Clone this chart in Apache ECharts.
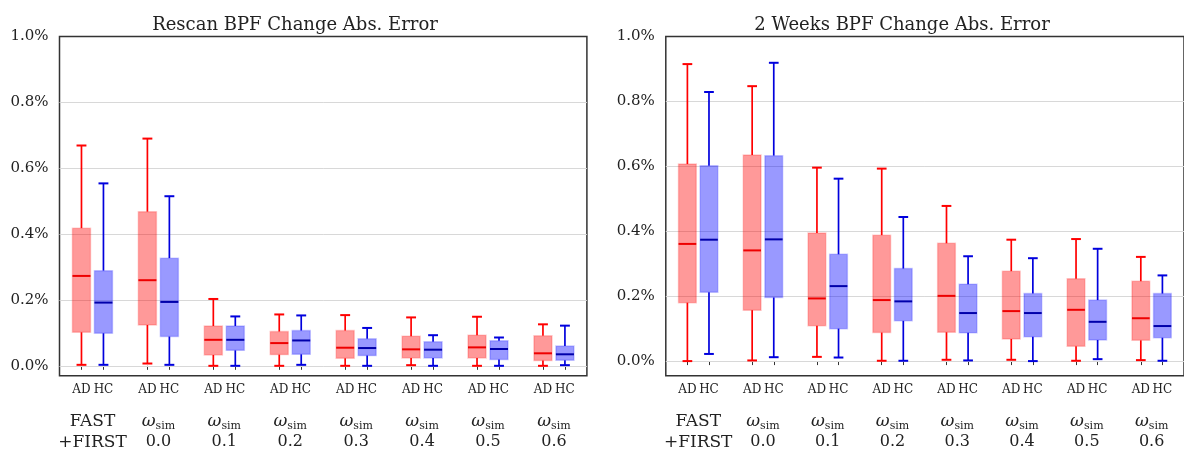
<!DOCTYPE html>
<html>
<head>
<meta charset="utf-8">
<script src="https://cdn.jsdelivr.net/npm/echarts@6.0.0/dist/echarts.min.js"></script>
<style>
html, body { margin: 0; padding: 0; background: #fff; }
#chart { width: 1184px; height: 451px; }
</style>
</head>
<body>
<div id="chart"></div>
<script>
'use strict';

// group labels under each AD/HC pair
var groupLabels = ['FAST+FIRST', '0.0', '0.1', '0.2', '0.3', '0.4', '0.5', '0.6'];
var boxLabels = ['AD', 'HC'];
var yTicks = [0, 0.2, 0.4, 0.6, 0.8, 1.0];
var titles = ['Rescan BPF Change Abs. Error', '2 Weeks BPF Change Abs. Error'];

// [lower whisker, Q1, median, Q3, upper whisker] in %
var rescanAD = [
	[0.003, 0.102, 0.273, 0.418, 0.669],
	[0.007, 0.124, 0.260, 0.468, 0.690],
	[0.000, 0.033, 0.079, 0.121, 0.203],
	[0.000, 0.034, 0.069, 0.104, 0.156],
	[0.000, 0.023, 0.055, 0.107, 0.154],
	[0.002, 0.024, 0.050, 0.090, 0.147],
	[0.000, 0.024, 0.056, 0.093, 0.149],
	[0.000, 0.016, 0.038, 0.091, 0.126]
];
var rescanHC = [
	[0.003, 0.099, 0.192, 0.289, 0.554],
	[0.003, 0.089, 0.194, 0.327, 0.515],
	[0.000, 0.047, 0.079, 0.121, 0.150],
	[0.003, 0.035, 0.077, 0.107, 0.153],
	[0.000, 0.031, 0.054, 0.082, 0.115],
	[0.000, 0.024, 0.049, 0.073, 0.093],
	[0.000, 0.019, 0.051, 0.076, 0.086],
	[0.002, 0.017, 0.035, 0.060, 0.122]
];
var weeksAD = [
	[0.000, 0.180, 0.361, 0.607, 0.915],
	[0.002, 0.157, 0.341, 0.635, 0.847],
	[0.013, 0.109, 0.193, 0.395, 0.596],
	[0.001, 0.088, 0.188, 0.388, 0.593],
	[0.004, 0.089, 0.201, 0.363, 0.478],
	[0.004, 0.068, 0.154, 0.277, 0.374],
	[0.001, 0.046, 0.158, 0.254, 0.376],
	[0.003, 0.064, 0.132, 0.246, 0.321]
];
var weeksHC = [
	[0.022, 0.212, 0.374, 0.602, 0.829],
	[0.012, 0.196, 0.375, 0.633, 0.919],
	[0.011, 0.100, 0.231, 0.329, 0.562],
	[0.001, 0.124, 0.184, 0.285, 0.444],
	[0.002, 0.087, 0.148, 0.237, 0.323],
	[0.000, 0.075, 0.148, 0.208, 0.317],
	[0.006, 0.065, 0.121, 0.188, 0.346],
	[0.001, 0.072, 0.108, 0.208, 0.264]
];

var SERIF = 'DejaVu Serif';
var BOX_W = 0.82, CAP_W = 0.45;

var styles = {
	AD: { line: '#ff0000', median: '#ee0000', fill: 'rgba(255,0,0,0.4)', edge: 'rgba(255,0,0,0.2)' },
	HC: { line: '#0000dd', median: '#0000aa', fill: 'rgba(0,0,255,0.4)', edge: 'rgba(0,0,255,0.2)' }
};

// AD at 3g, HC at 3g+1
var tickPos = [];
groupLabels.forEach(function (l, g) { tickPos.push(3 * g, 3 * g + 1); });

function boxData(rows, offset) {
	return rows.map(function (r, g) { return [3 * g + offset].concat(r); });
}

function renderBox(s) {
	return function (params, api) {
		var x = api.value(0);
		var lo = api.coord([x, api.value(1)]);
		var q1 = api.coord([x, api.value(2)]);
		var med = api.coord([x, api.value(3)]);
		var q3 = api.coord([x, api.value(4)]);
		var hi = api.coord([x, api.value(5)]);
		var bw = api.size([BOX_W, 0])[0];
		var cw = api.size([CAP_W, 0])[0];
		var cx = lo[0];
		function ln(x1, y1, x2, y2, c, w) {
			return { type: 'line', shape: { x1: x1, y1: y1, x2: x2, y2: y2 }, style: { stroke: c, lineWidth: w } };
		}
		return {
			type: 'group',
			children: [
				ln(cx, lo[1], cx, q1[1], s.line, 1.7),
				ln(cx, q3[1], cx, hi[1], s.line, 1.7),
				ln(cx - cw / 2, lo[1], cx + cw / 2, lo[1], s.line, 2),
				ln(cx - cw / 2, hi[1], cx + cw / 2, hi[1], s.line, 2),
				{ type: 'rect', shape: { x: cx - bw / 2, y: q3[1], width: bw, height: q1[1] - q3[1] },
					style: { fill: s.fill, stroke: s.edge, lineWidth: 1.5 } },
				ln(cx - bw / 2, med[1], cx + bw / 2, med[1], s.median, 2)
			]
		};
	};
}

function groupFormatter(v) {
	if (v === groupLabels[0]) return '{t|FAST}\n{t|+FIRST}';
	return '{w|ω}{s|sim}\n{n|' + v + '}';
}

var gridLefts = [59.5, 665.8];
var yMins = [-0.03, -0.045];
var panels = [[rescanAD, rescanHC], [weeksAD, weeksHC]];

var option = {
	animation: false,
	title: titles.map(function (t, i) {
		return {
			text: t, left: [290, 897][i], top: 11, textAlign: 'center',
			textStyle: { fontFamily: SERIF, fontSize: 18, fontWeight: 'normal', color: '#222' }
		};
	}),
	grid: gridLefts.map(function (l) {
		return { left: l, top: 36.5, width: 527.4, height: 339.2, show: true,
			borderColor: '#333', borderWidth: 1.5, backgroundColor: 'transparent' };
	}),
	xAxis: [],
	yAxis: [],
	series: []
};

panels.forEach(function (p, i) {
	option.xAxis.push({
		type: 'value', gridIndex: i, min: -1, max: 23, position: 'bottom',
		axisLine: { show: false },
		splitLine: { show: false },
		axisTick: { show: true, customValues: tickPos, length: 4, lineStyle: { color: '#333', width: 1 } },
		axisLabel: {
			customValues: tickPos, margin: 8,
			fontFamily: SERIF, fontSize: 12, color: '#222',
			formatter: function (v) { return boxLabels[Math.round(v) % 3]; }
		}
	});
	option.xAxis.push({
		type: 'category', gridIndex: i, data: groupLabels, position: 'bottom', boundaryGap: true,
		axisLine: { show: false }, axisTick: { show: false }, splitLine: { show: false },
		axisLabel: {
			interval: 0, margin: 35, color: '#222', formatter: groupFormatter,
			rich: {
				t: { fontFamily: SERIF, fontSize: 17, lineHeight: 21, align: 'center' },
				w: { fontFamily: SERIF, fontStyle: 'italic', fontSize: 17, lineHeight: 21, align: 'center' },
				s: { fontFamily: SERIF, fontSize: 11, lineHeight: 11, verticalAlign: 'bottom', align: 'center' },
				n: { fontFamily: SERIF, fontSize: 16, lineHeight: 21, align: 'center' }
			}
		}
	});
	option.yAxis.push({
		type: 'value', gridIndex: i, min: yMins[i], max: 1.0,
		axisLine: { show: false },
		splitLine: { show: false },
		axisTick: { show: true, customValues: yTicks, length: 4, lineStyle: { color: '#333', width: 1 } },
		axisLabel: {
			customValues: yTicks, margin: 11,
			fontFamily: SERIF, fontSize: 15, color: '#222',
			formatter: function (v) { return v.toFixed(1) + '%'; }
		}
	});
	boxLabels.forEach(function (b, k) {
		var ser = {
			type: 'custom', name: b, xAxisIndex: 2 * i, yAxisIndex: i,
			data: boxData(p[k], k),
			encode: { x: 0, y: [1, 2, 3, 4, 5] },
			renderItem: renderBox(styles[b]),
			z: 3
		};
		if (k === 0) {
			// horizontal grid lines; the top one is the frame itself
			ser.markLine = {
				silent: true, symbol: 'none', z: 1,
				label: { show: false },
				lineStyle: { color: '#d8d8d8', width: 1, type: 'solid' },
				emphasis: { disabled: true },
				data: yTicks.slice(0, -1).map(function (v) { return { yAxis: v }; })
			};
		}
		option.series.push(ser);
	});
});

var chart = echarts.init(document.getElementById('chart'));
chart.setOption(option);
</script>
</body>
</html>
